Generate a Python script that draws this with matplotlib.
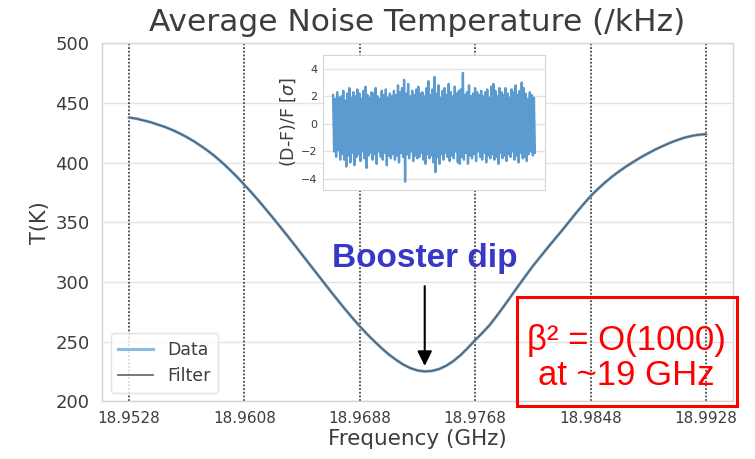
import numpy as np
import matplotlib
matplotlib.use("Agg")
import matplotlib.pyplot as plt
from matplotlib.patches import Rectangle

# ---------------- data ----------------
freq_ghz = [18.9528, 18.9533, 18.9538, 18.9543, 18.9548, 18.9553, 18.9558, 18.9563,
            18.9568, 18.9573, 18.9578, 18.9583, 18.9588, 18.9593, 18.9598, 18.9603,
            18.9608, 18.9613, 18.9618, 18.9623, 18.9628, 18.9633, 18.9638, 18.9643,
            18.9648, 18.9653, 18.9658, 18.9663, 18.9668, 18.9673, 18.9678, 18.9683,
            18.9688, 18.9693, 18.9698, 18.9703, 18.9708, 18.9713, 18.9718, 18.9723,
            18.9728, 18.9733, 18.9738, 18.9743, 18.9748, 18.9753, 18.9758, 18.9763,
            18.9768, 18.9773, 18.9778, 18.9783, 18.9788, 18.9793, 18.9798, 18.9803,
            18.9808, 18.9813, 18.9818, 18.9823, 18.9828, 18.9833, 18.9838, 18.9843,
            18.9848, 18.9853, 18.9858, 18.9863, 18.9868, 18.9873, 18.9878, 18.9883,
            18.9888, 18.9893, 18.9898, 18.9903, 18.9908, 18.9913, 18.9918, 18.9923,
            18.9928]
filter_T = [438.0, 437.0, 435.5, 434.0, 432.0, 430.0, 427.5, 424.7,
            421.5, 418.0, 414.0, 409.7, 405.0, 399.7, 394.0, 388.0,
            381.5, 374.9, 368.0, 360.8, 353.5, 346.0, 338.5, 330.8,
            323.0, 315.2, 307.5, 299.7, 292.0, 284.4, 277.0, 269.8,
            263.0, 256.5, 250.5, 244.8, 239.5, 235.0, 231.0, 228.0,
            226.0, 225.2, 225.6, 227.2, 230.0, 234.0, 239.0, 245.0,
            251.5, 257.5, 264.0, 271.8, 280.0, 288.5, 297.0, 305.3,
            313.5, 321.0, 328.5, 335.8, 343.0, 350.5, 358.0, 365.2,
            372.0, 378.0, 383.5, 388.5, 393.0, 397.2, 401.0, 404.7,
            408.0, 411.2, 414.0, 416.7, 419.0, 421.0, 422.5, 423.5,
            424.0]
data_T = list(filter_T)

xticks = [18.9528, 18.9608, 18.9688, 18.9768, 18.9848, 18.9928]
xtick_labels = ["18.9528", "18.9608", "18.9688", "18.9768", "18.9848", "18.9928"]
yticks = [200, 250, 300, 350, 400, 450, 500]

# residual noise envelopes (in sigma)
resid_upper = [2.1, 1.8, 2.3, 1.9, 2.0, 2.4, 1.7, 2.2, 2.6, 1.9,
               2.3, 2.0, 2.5, 2.2, 1.8, 2.4, 2.7, 2.1, 1.9, 2.3,
               2.2, 2.6, 2.0, 1.8, 2.4, 2.1, 2.5, 1.9, 2.2, 2.0,
               2.4, 2.1, 2.8, 2.3, 2.6, 3.2, 2.2, 2.9, 2.0, 2.4,
               2.1, 2.5, 2.7, 2.2, 2.3, 2.0, 2.6, 3.1, 2.1, 2.5,
               3.4, 2.2, 2.8, 1.9, 2.4, 2.6, 2.1, 2.9, 2.3, 2.0,
               2.7, 2.2, 2.4, 2.5, 3.7, 2.1, 2.3, 2.8, 2.0, 2.2,
               2.6, 2.3, 2.1, 2.4, 2.0, 2.3, 2.5, 1.9, 2.7, 2.9,
               2.4, 2.0, 2.6, 2.3, 2.1, 2.6, 2.2, 1.9, 2.5, 2.3,
               2.8, 2.1, 2.4, 3.0, 2.6, 2.2, 1.8, 2.3, 2.1, 1.9]
resid_lower = [-2.0, -2.4, -1.9, -2.6, -2.2, -2.6, -3.1, -2.3, -2.8, -2.1,
               -3.0, -2.4, -2.2, -2.7, -2.0, -2.5, -3.2, -2.3, -2.1, -2.6,
               -2.2, -2.9, -2.0, -2.4, -2.6, -2.1, -3.0, -2.3, -2.5, -2.2,
               -2.6, -2.3, -2.8, -2.1, -2.4, -4.2, -2.2, -2.5, -2.0, -2.7,
               -2.3, -2.5, -2.4, -2.1, -2.6, -2.9, -2.2, -2.5, -2.3, -2.8,
               -3.5, -2.4, -2.9, -2.2, -2.6, -2.1, -2.4, -2.7, -2.3, -2.5,
               -2.0, -2.8, -2.9, -2.4, -2.6, -2.1, -2.9, -2.3, -2.5, -2.2,
               -2.7, -2.0, -2.4, -2.6, -2.1, -2.8, -2.3, -2.5, -2.2, -2.6,
               -2.4, -2.9, -2.1, -2.5, -2.3, -2.7, -2.2, -2.4, -2.0, -2.6,
               -2.3, -2.8, -2.1, -2.5, -2.4, -2.7, -2.2, -2.0, -2.3, -2.1]
inset_yticks = [-4, -2, 0, 2, 4]

# ---------------- style ----------------
plt.rcParams['font.family'] = ['DejaVu Sans']
grid_col = '#e3e3e3'
spine_col = '#d5d5d5'
text_col = '#3d3d3d'

fig = plt.figure(figsize=(7.55, 4.59), dpi=100)
ax = fig.add_axes([0.1351, 0.1253, 0.8358, 0.780])

ax.plot(freq_ghz, data_T, color='#8abbe2', lw=2.2, label='Data', zorder=3)
ax.plot(freq_ghz, filter_T, color='#4d5861', lw=1.3, alpha=0.85, label='Filter', zorder=4)

ax.set_ylim(200, 500)
ax.set_yticks(yticks)
ax.set_xticks(xticks)
ax.set_xticklabels(xtick_labels)
ax.margins(x=0.047)
for xt in xticks:
    ax.axvline(xt, color='#2a2a2a', lw=1.1, ls=(0, (1.2, 1.2)), zorder=2)
ax.yaxis.grid(True, color=grid_col, lw=1.0)
ax.xaxis.grid(False)
ax.set_axisbelow(True)
for s in ax.spines.values():
    s.set_color(spine_col)
    s.set_linewidth(1.0)
ax.tick_params(axis='both', length=0, colors=text_col)
ax.tick_params(axis='y', labelsize=13, pad=9)
ax.tick_params(axis='x', labelsize=11, pad=7)
ax.set_xlabel('Frequency (GHz)', fontsize=15.5, color=text_col, labelpad=2)
ax.set_ylabel('T(K)', fontsize=15, color=text_col, labelpad=4)
ax.set_title('Average Noise Temperature (/kHz)', fontsize=22.5, color=text_col, pad=9)

leg = ax.legend(loc='lower left', fontsize=12.5, frameon=True, handlelength=2.0,
                borderpad=0.45, labelspacing=0.45, handletextpad=0.8)
leg.get_frame().set_edgecolor('#dddddd')
leg.get_frame().set_linewidth(1.0)
for t in leg.get_texts():
    t.set_color(text_col)

# annotations
ax.text(18.9733, 312.5, 'Booster dip', fontsize=24, fontweight='bold',
        family='Liberation Sans', color='#3737c8', ha='center', va='baseline', zorder=6)
ax.annotate('', xy=(18.9733, 227.5), xytext=(18.9733, 299),
            arrowprops=dict(arrowstyle='-|>', color='black', lw=1.5, mutation_scale=22),
            zorder=6)

# red box (figure pixels -> fraction)
W, H = 755.0, 459.0
box = Rectangle((517 / W, 1 - 406 / H), (737 - 517) / W, (406 - 297) / H,
                transform=fig.transFigure, fill=False,
                edgecolor='#ff0000', lw=2.2, zorder=10)
fig.patches.append(box)
fig.text(626 / W, 1 - 350 / H, 'β² = O(1000)', fontsize=25, family='Liberation Sans',
         color='#ff0000', ha='center', va='baseline', zorder=11)
fig.text(626 / W, 1 - 385 / H, 'at ~19 GHz', fontsize=25, family='Liberation Sans',
         color='#ff0000', ha='center', va='baseline', zorder=11)

# inset
ins = fig.add_axes([323 / W, 1 - 190 / H, 222 / W, 135 / H], zorder=5)
zig = []
for u, l in zip(resid_upper, resid_lower):
    zig.append(u)
    zig.append(l)
ins.plot(np.arange(len(zig)), zig, color='#5b9bd0', lw=1.7)
ins.set_ylim(-4.8, 5.0)
ins.set_yticks(inset_yticks)
ins.set_xticks([])
ins.yaxis.grid(True, color=grid_col, lw=1.0)
ins.set_axisbelow(True)
for s in ins.spines.values():
    s.set_color(spine_col)
ins.tick_params(axis='y', length=0, labelsize=8, colors=text_col, pad=4)
ins.set_ylabel('(D-F)/F [$\\sigma$]', fontsize=12.5, color=text_col, labelpad=2)

fig.savefig('out.png', dpi=100)
